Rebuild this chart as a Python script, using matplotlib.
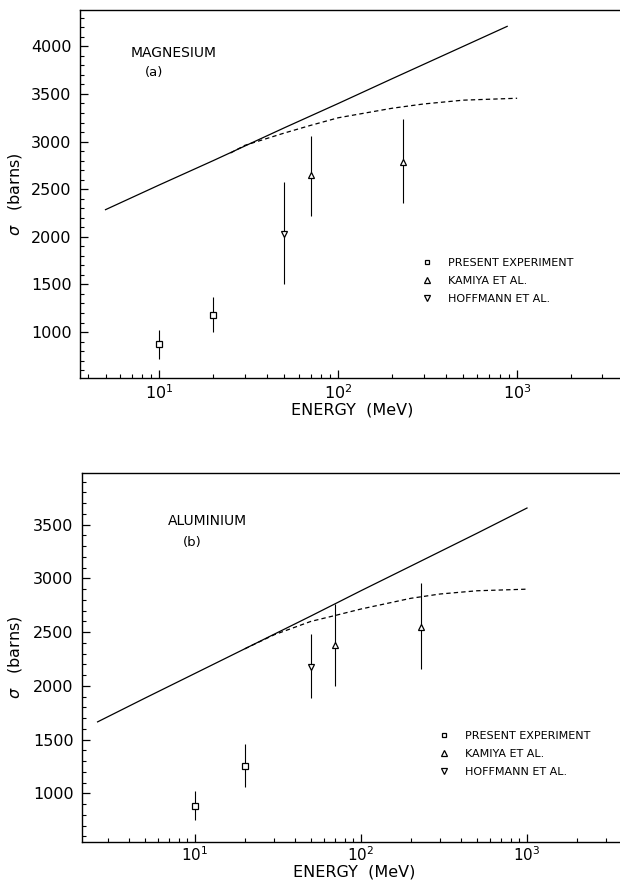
import matplotlib
matplotlib.use('Agg')
import matplotlib.pyplot as plt
from matplotlib.ticker import LogLocator, MultipleLocator, NullFormatter
from matplotlib.lines import Line2D

# ---------------- Magnesium (a) ----------------
mg_line_E = [5, 10, 20, 50, 100, 200, 500, 880]
mg_line_sigma = [2285, 2545, 2800, 3145, 3400, 3660, 4000, 4210]
mg_dash_E = [25, 30, 50, 70, 100, 200, 300, 500, 1000]
mg_dash_sigma = [2880, 2960, 3090, 3170, 3250, 3350, 3395, 3435, 3455]
mg_present_E = [10, 20]
mg_present_sigma = [870, 1180]
mg_present_lo = [720, 1000]
mg_present_hi = [1020, 1370]
mg_kamiya_E = [70, 230]
mg_kamiya_sigma = [2650, 2790]
mg_kamiya_lo = [2220, 2350]
mg_kamiya_hi = [3060, 3240]
mg_hoff_E = [50]
mg_hoff_sigma = [2030]
mg_hoff_lo = [1500]
mg_hoff_hi = [2580]

# ---------------- Aluminium (b) ----------------
al_line_E = [2.6, 5, 10, 20, 50, 100, 200, 500, 1000]
al_line_sigma = [1665, 1885, 2115, 2345, 2650, 2885, 3115, 3420, 3655]
al_dash_E = [20, 30, 50, 70, 100, 200, 300, 500, 1000]
al_dash_sigma = [2345, 2475, 2600, 2655, 2715, 2815, 2855, 2885, 2900]
al_present_E = [10, 20]
al_present_sigma = [885, 1255]
al_present_lo = [755, 1060]
al_present_hi = [1025, 1460]
al_kamiya_E = [70, 230]
al_kamiya_sigma = [2380, 2550]
al_kamiya_lo = [2000, 2155]
al_kamiya_hi = [2760, 2955]
al_hoff_E = [50]
al_hoff_sigma = [2180]
al_hoff_lo = [1885]
al_hoff_hi = [2480]

legend_labels = ['PRESENT EXPERIMENT', 'KAMIYA ET AL.', 'HOFFMANN ET AL.']
y_major_ticks_mg = [1000, 1500, 2000, 2500, 3000, 3500, 4000]
y_major_ticks_al = [1000, 1500, 2000, 2500, 3000, 3500]

plt.rcParams['font.family'] = ['DejaVu Sans']

fig = plt.figure(figsize=(6.2, 8.81), dpi=100)
ax1 = fig.add_axes([0.129, 0.571, 0.871, 0.418])
ax2 = fig.add_axes([0.132, 0.044, 0.868, 0.419])


def errs(s, lo, hi):
    return [[v - l for v, l in zip(s, lo)], [h - v for v, h in zip(s, hi)]]


def draw(ax, lineE, lineS, dashE, dashS, pE, pS, pLo, pHi, kE, kS, kLo, kHi,
         hE, hS, hLo, hHi, xlim, ylim, yticks, name, tag, name_pos, tag_pos,
         leg_anchor, xpad, xlsize):
    ax.set_xscale('log')
    ax.plot(lineE, lineS, color='black', lw=0.9)
    ax.plot(dashE, dashS, color='black', lw=0.9, linestyle=(0, (3.5, 2.5)))
    ekw = dict(ecolor='black', elinewidth=0.8, capsize=0, mec='black',
               mfc='white', mew=0.9, linestyle='none')
    ax.errorbar(pE, pS, yerr=errs(pS, pLo, pHi), fmt='s', ms=4, **ekw)
    ax.errorbar(kE, kS, yerr=errs(kS, kLo, kHi), fmt='^', ms=4, **ekw)
    ax.errorbar(hE, hS, yerr=errs(hS, hLo, hHi), fmt='v', ms=4, **ekw)
    ax.set_xlim(*xlim)
    ax.set_ylim(*ylim)
    ax.spines['right'].set_visible(False)
    for s in ['top', 'left', 'bottom']:
        ax.spines[s].set_linewidth(1.0)
    ax.xaxis.set_major_locator(LogLocator(base=10, numticks=10))
    ax.xaxis.set_minor_locator(LogLocator(base=10, subs=range(2, 10), numticks=20))
    ax.xaxis.set_minor_formatter(NullFormatter())
    ax.set_yticks(yticks)
    ax.yaxis.set_minor_locator(MultipleLocator(100))
    ax.tick_params(which='both', direction='in', top=False, right=False)
    ax.tick_params(which='major', length=6, width=0.9, labelsize=11.5)
    ax.tick_params(which='minor', length=3, width=0.8)
    ax.tick_params(axis='y', which='major', pad=6)
    ax.tick_params(axis='x', which='major', pad=xpad, labelsize=xlsize)
    ax.set_xlabel('ENERGY  (MeV)', fontsize=11.5)
    ax.set_ylabel(r'$\sigma$   (barns)', fontsize=11.5)
    ax.text(name_pos[0], name_pos[1], name, fontsize=10, ha='left', va='center')
    ax.text(tag_pos[0], tag_pos[1], tag, fontsize=9.5, ha='center', va='center')
    handles = [
        Line2D([], [], marker='s', ms=3.5, mfc='white', mec='black', mew=0.9, ls='none'),
        Line2D([], [], marker='^', ms=4, mfc='white', mec='black', mew=0.9, ls='none'),
        Line2D([], [], marker='v', ms=4, mfc='white', mec='black', mew=0.9, ls='none'),
    ]
    ax.legend(handles, legend_labels, loc='upper left', bbox_to_anchor=leg_anchor,
              frameon=False, fontsize=8, handlelength=1.0, handletextpad=1.45,
              labelspacing=0.72, borderpad=0, borderaxespad=0)


draw(ax1, mg_line_E, mg_line_sigma, mg_dash_E, mg_dash_sigma,
     mg_present_E, mg_present_sigma, mg_present_lo, mg_present_hi,
     mg_kamiya_E, mg_kamiya_sigma, mg_kamiya_lo, mg_kamiya_hi,
     mg_hoff_E, mg_hoff_sigma, mg_hoff_lo, mg_hoff_hi,
     (3.6, 3760), (518, 4385), y_major_ticks_mg, 'MAGNESIUM', '(a)',
     (6.9, 3935), (9.4, 3727), (0.632, 0.327), 4, 11.5)
ax1.xaxis.set_label_coords(0.504, -0.068)
ax1.yaxis.set_label_coords(-0.104, 0.5)

draw(ax2, al_line_E, al_line_sigma, al_dash_E, al_dash_sigma,
     al_present_E, al_present_sigma, al_present_lo, al_present_hi,
     al_kamiya_E, al_kamiya_sigma, al_kamiya_lo, al_kamiya_hi,
     al_hoff_E, al_hoff_sigma, al_hoff_lo, al_hoff_hi,
     (2.09, 3630), (545, 3980), y_major_ticks_al, 'ALUMINIUM', '(b)',
     (6.9, 3537), (9.7, 3336), (0.662, 0.302), 2, 11)
ax2.xaxis.set_label_coords(0.507, -0.060)
ax2.yaxis.set_label_coords(-0.108, 0.5)

fig.savefig('out.png', dpi=100)
